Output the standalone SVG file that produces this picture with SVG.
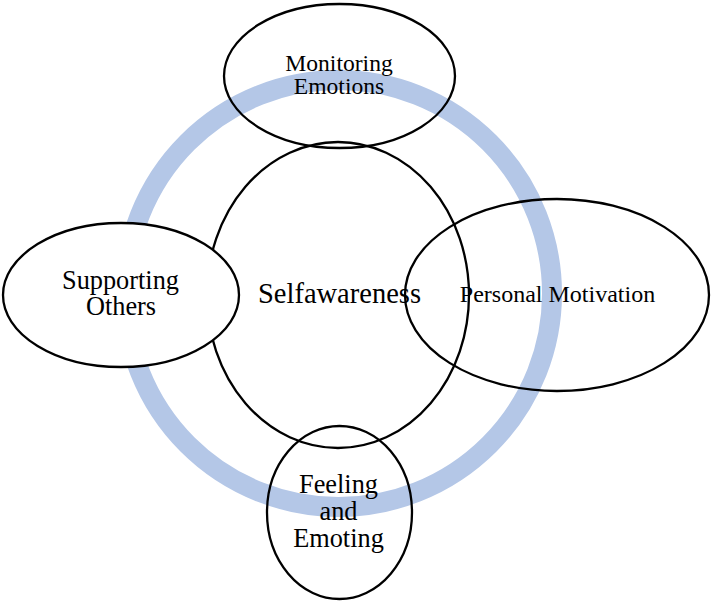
<svg xmlns="http://www.w3.org/2000/svg" width="711" height="602" viewBox="0 0 711 602">
<style>
.n{fill:none;stroke:#000;stroke-width:2.3}
.w{fill:#fff;stroke:#000;stroke-width:2.3}
.t{font-family:"Liberation Serif","Times New Roman",serif;fill:#000;text-anchor:middle}
</style>
<rect width="711" height="602" fill="#fff"/>
<g id="ring">
<circle cx="338.5" cy="293.5" r="213.5" fill="none" stroke="#B4C7E7" stroke-width="20"/>
</g>
<g id="selfawareness">
<ellipse class="n" cx="338" cy="295" rx="131" ry="153"/>
<text class="t" x="339.5" y="303" font-size="28.5">Selfawareness</text>
</g>
<g id="monitoring-emotions">
<ellipse class="n" cx="339.5" cy="76" rx="115.5" ry="72"/>
<text class="t" x="339" y="71" font-size="23.6">Monitoring</text>
<text class="t" x="339" y="94" font-size="23.6">Emotions</text>
</g>
<g id="personal-motivation">
<ellipse class="n" cx="557" cy="295" rx="152" ry="96"/>
<text class="t" x="557.5" y="302" font-size="24">Personal Motivation</text>
</g>
<g id="feeling-and-emoting">
<ellipse class="n" cx="339.5" cy="512.5" rx="72.5" ry="86.5"/>
<text class="t" x="338.5" y="493" font-size="26.3">Feeling</text>
<text class="t" x="338.5" y="520" font-size="26.3">and</text>
<text class="t" x="338.5" y="547" font-size="26.3">Emoting</text>
</g>
<g id="supporting-others">
<ellipse class="w" cx="121" cy="295" rx="118" ry="72"/>
<text class="t" x="120.5" y="289" font-size="26.3">Supporting</text>
<text class="t" x="121" y="315" font-size="26.3">Others</text>
</g>
</svg>
